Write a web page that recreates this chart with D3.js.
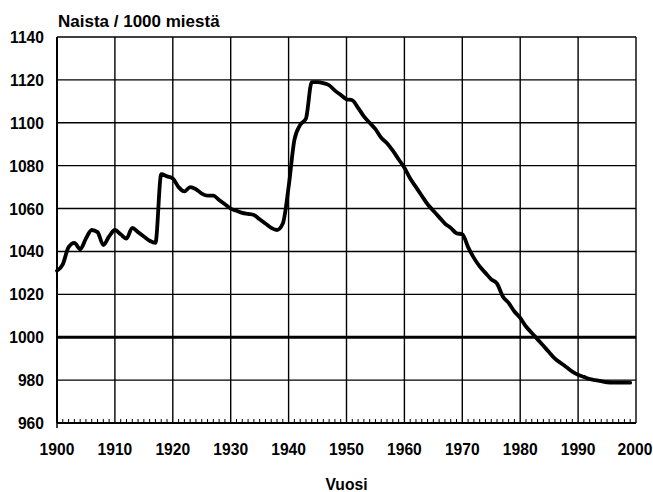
<!DOCTYPE html>
<html>
<head>
<meta charset="utf-8">
<script src="https://cdn.jsdelivr.net/npm/d3@7"></script>
<style>
  body { margin: 0; background: #fff; overflow: hidden; }
  text { font-family: "Liberation Sans", Arial, sans-serif; font-weight: bold; fill: #000; }
</style>
</head>
<body>
<div id="app"></div>
<script>
const width = 653, height = 492;

// vuodet ja arvot (naisia / 1000 miestä)
const years = d3.range(1900, 2000);
const values = [
  1031, 1034, 1042, 1044, 1041, 1046, 1050, 1049, 1043, 1047,
  1050, 1048, 1046, 1051, 1049, 1047, 1045, 1044, 1076, 1075,
  1074, 1070, 1068, 1070, 1069, 1067, 1066, 1066, 1064, 1062,
  1060, 1059, 1058, 1057.5, 1057, 1055, 1053, 1051, 1050, 1053,
  1070, 1092, 1099, 1102, 1119, 1119, 1118.5, 1117.5, 1115, 1113,
  1111, 1110.5, 1107, 1103, 1100, 1097, 1093, 1090.5, 1087, 1083,
  1079, 1074, 1070, 1066, 1062, 1059, 1056, 1053, 1051, 1048.5,
  1048, 1042, 1037, 1033, 1030, 1027, 1025, 1019, 1016, 1012,
  1009, 1005, 1002, 999, 996, 993, 990, 988, 986, 984,
  982.5, 981.5, 980.5, 980, 979.5, 979, 978.8, 978.8, 978.8, 978.8
];
const xTicks = d3.range(1900, 2001, 10);
const yTicks = d3.range(960, 1141, 20);

const svg = d3.select("#app").append("svg")
  .attr("width", width)
  .attr("height", height);

const x = d3.scaleLinear().domain([1900, 2000]).range([57, 636]);
const y = d3.scaleLinear().domain([960, 1140]).range([423, 37]);

// ruudukko
svg.append("g")
  .selectAll("line")
  .data(yTicks)
  .join("line")
  .attr("x1", x(1900)).attr("x2", x(2000))
  .attr("y1", d => y(d)).attr("y2", d => y(d))
  .attr("stroke", "#000")
  .attr("stroke-width", d => d === 1000 ? 3 : 1.4);

svg.append("g")
  .selectAll("line")
  .data(xTicks)
  .join("line")
  .attr("x1", d => x(d)).attr("x2", d => x(d))
  .attr("y1", y(960)).attr("y2", y(1140))
  .attr("stroke", "#000")
  .attr("stroke-width", 1.4);

// pienet vuosimerkit
svg.append("g")
  .selectAll("line")
  .data(d3.range(1900, 2001))
  .join("line")
  .attr("x1", d => x(d)).attr("x2", d => x(d))
  .attr("y1", y(960)).attr("y2", d => y(960) - (d % 10 === 0 ? 0 : 4))
  .attr("stroke", "#000")
  .attr("stroke-width", 1);

// pääakselit
svg.append("line")
  .attr("x1", x(1900)).attr("x2", x(2000))
  .attr("y1", y(960)).attr("y2", y(960))
  .attr("stroke", "#000").attr("stroke-width", 2);
svg.append("line")
  .attr("x1", x(1900)).attr("x2", x(1900))
  .attr("y1", y(960)).attr("y2", y(1140))
  .attr("stroke", "#000").attr("stroke-width", 2);
svg.append("line")
  .attr("x1", x(1900)).attr("x2", x(1900))
  .attr("y1", y(960)).attr("y2", y(960) + 5)
  .attr("stroke", "#000").attr("stroke-width", 1.5);

// käyrä
const line = d3.line()
  .x((d, i) => x(years[i]))
  .y(d => y(d))
  .curve(d3.curveMonotoneX);

svg.append("path")
  .datum(values)
  .attr("d", line)
  .attr("fill", "none")
  .attr("stroke", "#000")
  .attr("stroke-width", 3.8)
  .attr("stroke-linejoin", "round")
  .attr("stroke-linecap", "round");

// akselien tekstit (kapeutettu)
const squeeze = 0.92;

svg.append("g")
  .selectAll("text")
  .data(yTicks)
  .join("text")
  .attr("transform", d => `translate(44,${y(d) + 6}) scale(${squeeze},1)`)
  .attr("text-anchor", "end")
  .style("font-size", "17px")
  .text(d => d);

svg.append("g")
  .selectAll("text")
  .data(xTicks)
  .join("text")
  .attr("transform", d => `translate(${d === 2000 ? x(d) - 1 : x(d)},455) scale(${squeeze},1)`)
  .attr("text-anchor", "middle")
  .style("font-size", "17px")
  .text(d => d);

svg.append("text")
  .attr("x", 58)
  .attr("y", 27)
  .style("font-size", "17px")
  .text("Naista / 1000 miestä");

svg.append("text")
  .attr("transform", `translate(${(x(1900) + x(2000)) / 2},490) scale(${squeeze},1)`)
  .attr("text-anchor", "middle")
  .style("font-size", "17px")
  .text("Vuosi");
</script>
</body>
</html>
